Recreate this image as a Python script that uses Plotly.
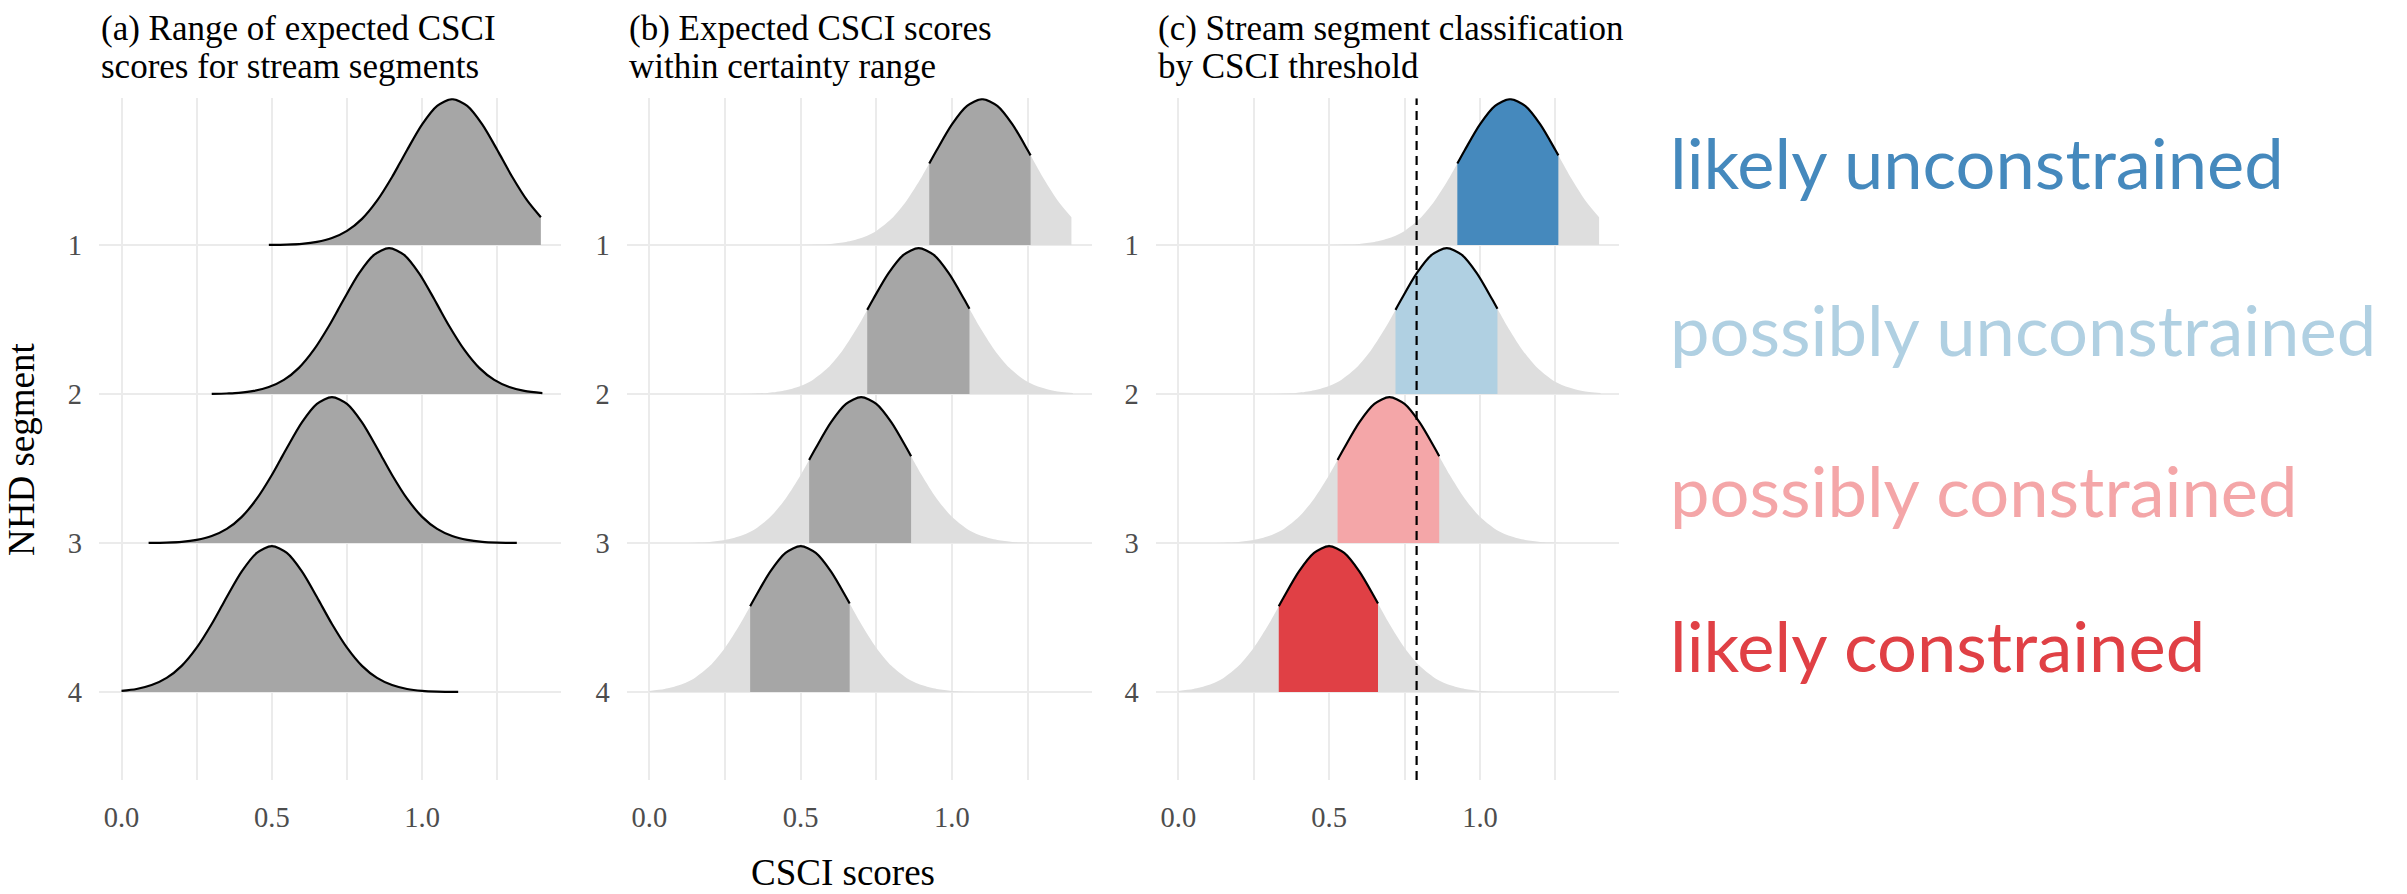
import plotly.graph_objects as go

# ---- data -------------------------------------------------------------
SEGMENTS = ["1", "2", "3", "4"]
ROW_Y = [4, 3, 2, 1]  # vertical position of each segment's baseline

# density curves (x = CSCI score, h = ridge height in row units)
SEG1_X = [0.49, 0.55, 0.60, 0.65, 0.70, 0.75, 0.80, 0.85, 0.90, 0.925, 0.95, 1.00,
          1.05, 1.10, 1.15, 1.20, 1.25, 1.26, 1.30, 1.35, 1.395]
SEG1_H = [0.001, 0.003, 0.008, 0.021, 0.047, 0.095, 0.176, 0.298, 0.457, 0.547, 0.638, 0.810,
          0.934, 0.980, 0.934, 0.810, 0.638, 0.602, 0.457, 0.298, 0.187]

SEG2_X = [0.30, 0.35, 0.39, 0.44, 0.49, 0.54, 0.59, 0.64, 0.69, 0.72, 0.74, 0.79, 0.84,
          0.89, 0.94, 0.99, 1.04, 1.058, 1.09, 1.14, 1.19, 1.24, 1.29, 1.34, 1.40]
SEG2_H = [0.001, 0.004, 0.008, 0.021, 0.047, 0.095, 0.176, 0.298, 0.457, 0.565, 0.638, 0.810, 0.934,
          0.980, 0.934, 0.810, 0.638, 0.572, 0.457, 0.298, 0.176, 0.095, 0.047, 0.021, 0.007]

SEG3_X = [0.09, 0.15, 0.20, 0.25, 0.30, 0.35, 0.40, 0.45, 0.50, 0.528, 0.55, 0.60, 0.65, 0.70,
          0.75, 0.80, 0.85, 0.865, 0.90, 0.95, 1.00, 1.05, 1.10, 1.15, 1.20, 1.25, 1.315]
SEG3_H = [0.001, 0.003, 0.008, 0.021, 0.047, 0.095, 0.176, 0.298, 0.457, 0.558, 0.638, 0.810, 0.934, 0.980,
          0.934, 0.810, 0.638, 0.583, 0.457, 0.298, 0.176, 0.095, 0.047, 0.021, 0.008, 0.003, 0.001]

SEG4_X = [0.00, 0.05, 0.10, 0.15, 0.20, 0.25, 0.30, 0.333, 0.35, 0.40, 0.45, 0.50, 0.55, 0.60,
          0.65, 0.662, 0.70, 0.75, 0.80, 0.85, 0.90, 0.95, 1.00, 1.05, 1.12]
SEG4_H = [0.008, 0.021, 0.047, 0.095, 0.176, 0.298, 0.457, 0.576, 0.638, 0.810, 0.934, 0.980, 0.934, 0.810,
          0.638, 0.594, 0.457, 0.298, 0.176, 0.095, 0.047, 0.021, 0.008, 0.003, 0.001]

CURVES_X = [SEG1_X, SEG2_X, SEG3_X, SEG4_X]
CURVES_H = [SEG1_H, SEG2_H, SEG3_H, SEG4_H]

# certainty range of expected scores for each segment
RANGE_LO = [0.925, 0.72, 0.528, 0.333]
RANGE_HI = [1.26, 1.058, 0.865, 0.662]

CSCI_THRESHOLD = 0.79
CLASS_LABELS = ["likely unconstrained", "possibly unconstrained",
                "possibly constrained", "likely constrained"]
CLASS_COLORS = ["#4589BD", "#B0D0E2", "#F4A6A8", "#E04045"]

PANEL_TITLES = [("(a) Range of expected CSCI", "scores for stream segments"),
                ("(b) Expected CSCI scores", "within certainty range"),
                ("(c) Stream segment classification", "by CSCI threshold")]
X_TICKS = [0.0, 0.5, 1.0]
X_TICK_TEXT = ["0.0", "0.5", "1.0"]

# ---- styling ----------------------------------------------------------
W, H = 2407, 894
SERIF = "Liberation Serif, Times New Roman, serif"
DARK_GREY = "#A6A6A6"
LIGHT_GREY = "#DEDEDE"
GRID = "#EBEBEB"
TICK_COL = "#4D4D4D"

X_DOMAINS = [(99 / W, 561 / W), (626.7 / W, 1091.7 / W), (1155.7 / W, 1619.3 / W)]
Y_DOMAIN = (1 - 780 / H, 1 - 98.3 / H)
X_RANGE = [-0.075, 1.462]
Y_RANGE = [0.41, 4.985]

fig = go.Figure()


def add_ridge(xs, hs, base, fill, line_color, line_width, xa, ya):
    # invisible baseline, then the curve filled down to it
    fig.add_trace(go.Scatter(x=[xs[0], xs[-1]], y=[base, base], mode="lines",
                             line=dict(width=0, color="rgba(0,0,0,0)"),
                             xaxis=xa, yaxis=ya, showlegend=False, hoverinfo="skip"))
    fig.add_trace(go.Scatter(x=xs, y=[base + h for h in hs], mode="lines",
                             line=dict(width=line_width, color=line_color,
                                       shape="spline", smoothing=0.8),
                             fill="tonexty", fillcolor=fill,
                             xaxis=xa, yaxis=ya, showlegend=False, hoverinfo="skip"))


for p in range(3):
    xa = "x" if p == 0 else f"x{p + 1}"
    ya = "y" if p == 0 else f"y{p + 1}"
    for i in range(4):
        xs, hs, base = CURVES_X[i], CURVES_H[i], ROW_Y[i]
        if p == 0:
            add_ridge(xs, hs, base, DARK_GREY, "black", 2.2, xa, ya)
        else:
            add_ridge(xs, hs, base, LIGHT_GREY, "rgba(0,0,0,0)", 0, xa, ya)
            sel = [k for k, x in enumerate(xs) if RANGE_LO[i] <= x <= RANGE_HI[i]]
            sx = [xs[k] for k in sel]
            sh = [hs[k] for k in sel]
            fill = DARK_GREY if p == 1 else CLASS_COLORS[i]
            add_ridge(sx, sh, base, fill, "black", 2.2, xa, ya)
    if p == 2:
        fig.add_trace(go.Scatter(x=[CSCI_THRESHOLD, CSCI_THRESHOLD], y=Y_RANGE, mode="lines",
                                 line=dict(color="black", width=2.2, dash="9px,6px"),
                                 xaxis=xa, yaxis=ya, showlegend=False, hoverinfo="skip"))

axis_common = dict(showline=False, zeroline=False, ticks="", color=TICK_COL,
                   tickfont=dict(family=SERIF, size=28.5, color=TICK_COL))
for p in range(3):
    sfx = "" if p == 0 else str(p + 1)
    fig.update_layout(**{
        f"xaxis{sfx}": dict(domain=X_DOMAINS[p], range=X_RANGE, anchor=f"y{sfx}",
                            tickvals=X_TICKS, ticktext=X_TICK_TEXT,
                            showgrid=True, gridcolor=GRID, gridwidth=2,
                            minor=dict(dtick=0.25, tick0=0, showgrid=True,
                                       gridcolor=GRID, gridwidth=1.5),
                            ticklabelstandoff=17, **axis_common),
        f"yaxis{sfx}": dict(domain=Y_DOMAIN, range=Y_RANGE, anchor=f"x{sfx}",
                            tickvals=ROW_Y, ticktext=SEGMENTS,
                            showgrid=True, gridcolor=GRID, gridwidth=2,
                            ticklabelstandoff=16, **axis_common),
    })

annotations = []
for p, (l1, l2) in enumerate(PANEL_TITLES):
    for line, yy in ((l1, 28), (l2, 66)):
        annotations.append(dict(text=line, x=X_DOMAINS[p][0], y=1 - yy / H,
                                xref="paper", yref="paper", xanchor="left", yanchor="middle",
                                showarrow=False, font=dict(family=SERIF, size=35, color="black")))

annotations.append(dict(text="NHD segment", x=21 / W, y=1 - 450 / H, xref="paper", yref="paper",
                        textangle=-90, showarrow=False, xanchor="center", yanchor="middle",
                        font=dict(family=SERIF, size=37, color="black")))
annotations.append(dict(text="CSCI scores", x=843 / W, y=1 - 872 / H, xref="paper", yref="paper",
                        showarrow=False, xanchor="center", yanchor="middle",
                        font=dict(family=SERIF, size=37, color="black")))

for lab, col, yy in zip(CLASS_LABELS, CLASS_COLORS, [162, 328, 490, 644]):
    annotations.append(dict(text=lab, x=1668 / W, y=1 - yy / H, xref="paper", yref="paper",
                            showarrow=False, xanchor="left", yanchor="middle",
                            font=dict(family="Lato, Open Sans, sans-serif", size=70.5, color=col)))

fig.update_layout(width=W, height=H, margin=dict(l=0, r=0, t=0, b=0),
                  paper_bgcolor="white", plot_bgcolor="white",
                  annotations=annotations)

fig.write_html("out.html")
